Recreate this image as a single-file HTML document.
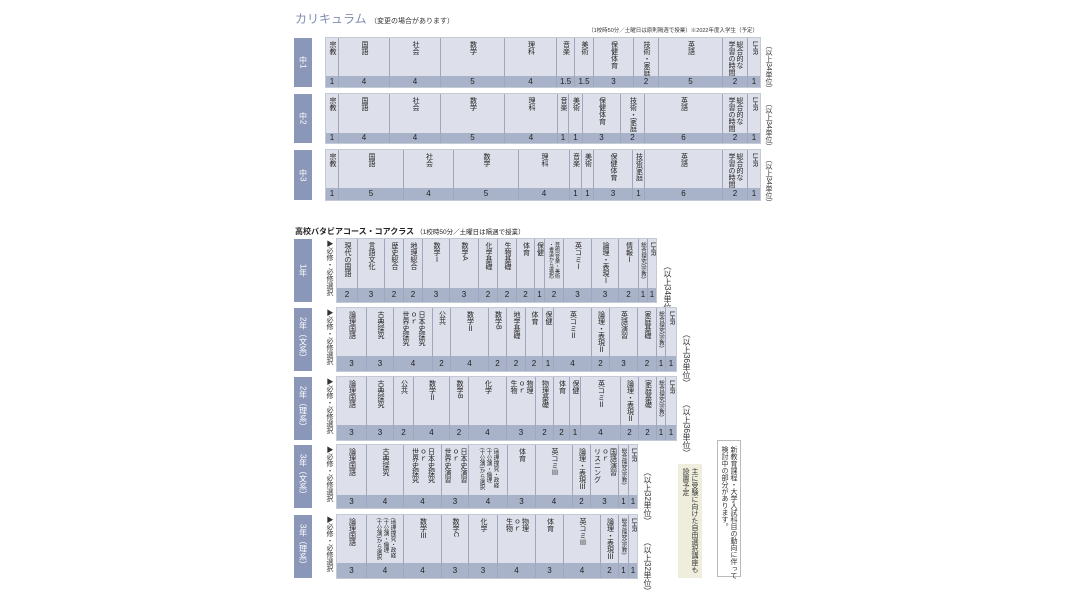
<!DOCTYPE html>
<html><head><meta charset="utf-8"><style>
body{margin:0;width:1080px;height:608px;background:#fff;position:relative;overflow:hidden;font-family:"Liberation Sans","Noto Sans CJK JP",sans-serif;color:#333}
.a{position:absolute}
.t{position:absolute;background:linear-gradient(to top,#a8b2c8 var(--n),#dde0ea var(--n));box-shadow:0 0 0 1px #c4c9d6}
.c{position:absolute;top:0;bottom:0;border-left:1px solid #9ea7bc;text-align:center;box-sizing:border-box}
.c:first-child{border-left:none}
.c span{display:inline-block;writing-mode:vertical-rl;text-align:start;font-size:7px;line-height:8px;margin-top:3px;white-space:nowrap;color:#222}
.c b{position:absolute;left:0;right:0;bottom:0;height:var(--n);line-height:var(--n);font-weight:normal;font-size:8px;color:#222}
.lb{position:absolute;left:294px;width:18px;background:#8a97b8;color:#fff;font-size:8px;display:flex;align-items:center;justify-content:center}
.lb span{writing-mode:vertical-rl;white-space:nowrap}
.v{position:absolute;writing-mode:vertical-rl;font-size:7px;line-height:8px;color:#333;white-space:nowrap}
</style></head><body>
<div class="a" style="left:295px;top:10px;font-size:12px;color:#7f8db0">カリキュラム <span style="font-size:7px;color:#333">（変更の場合があります）</span></div>
<div class="a" style="left:540px;top:26px;font-size:5.5px;width:218px;text-align:right;white-space:nowrap">（1校時50分／土曜日は原則隔週で授業）※2022年度入学生（予定）</div>

<div class="lb" style="top:38px;height:49px"><span>中1</span></div>
<div class="t" style="left:326px;top:38px;width:434px;height:49px;--n:11px">
<div class="c" style="left:0;width:12px"><span>宗教</span><b>1</b></div>
<div class="c" style="left:12px;width:51px"><span>国語</span><b>4</b></div>
<div class="c" style="left:63px;width:51px"><span>社会</span><b>4</b></div>
<div class="c" style="left:114px;width:64px"><span>数学</span><b>5</b></div>
<div class="c" style="left:178px;width:52px"><span>理科</span><b>4</b></div>
<div class="c" style="left:230px;width:18px"><span>音楽</span><b>1.5</b></div>
<div class="c" style="left:248px;width:19px"><span>美術</span><b>1.5</b></div>
<div class="c" style="left:267px;width:40px"><span>保健体育</span><b>3</b></div>
<div class="c" style="left:307px;width:25px"><span>技術・家庭</span><b>2</b></div>
<div class="c" style="left:332px;width:64px"><span>英語</span><b>5</b></div>
<div class="c" style="left:396px;width:25px"><span>総合的な<br>学習の時間</span><b>2</b></div>
<div class="c" style="left:421px;width:13px"><span>LHR</span><b>1</b></div>
</div>
<div class="v" style="left:764px;top:42px">（以上34単位）</div>

<div class="lb" style="top:94px;height:49px"><span>中2</span></div>
<div class="t" style="left:326px;top:94px;width:434px;height:49px;--n:10px">
<div class="c" style="left:0;width:12px"><span>宗教</span><b>1</b></div>
<div class="c" style="left:12px;width:51px"><span>国語</span><b>4</b></div>
<div class="c" style="left:63px;width:51px"><span>社会</span><b>4</b></div>
<div class="c" style="left:114px;width:64px"><span>数学</span><b>5</b></div>
<div class="c" style="left:178px;width:53px"><span>理科</span><b>4</b></div>
<div class="c" style="left:231px;width:11px"><span>音楽</span><b>1</b></div>
<div class="c" style="left:242px;width:14px"><span>美術</span><b>1</b></div>
<div class="c" style="left:256px;width:38px"><span>保健体育</span><b>3</b></div>
<div class="c" style="left:294px;width:24px"><span>技術・家庭</span><b>2</b></div>
<div class="c" style="left:318px;width:78px"><span>英語</span><b>6</b></div>
<div class="c" style="left:396px;width:25px"><span>総合的な<br>学習の時間</span><b>2</b></div>
<div class="c" style="left:421px;width:13px"><span>LHR</span><b>1</b></div>
</div>
<div class="v" style="left:764px;top:100px">（以上34単位）</div>

<div class="lb" style="top:150px;height:50px"><span>中3</span></div>
<div class="t" style="left:326px;top:150px;width:434px;height:50px;--n:12px">
<div class="c" style="left:0;width:12px"><span>宗教</span><b>1</b></div>
<div class="c" style="left:12px;width:65px"><span>国語</span><b>5</b></div>
<div class="c" style="left:77px;width:50px"><span>社会</span><b>4</b></div>
<div class="c" style="left:127px;width:65px"><span>数学</span><b>5</b></div>
<div class="c" style="left:192px;width:51px"><span>理科</span><b>4</b></div>
<div class="c" style="left:243px;width:12px"><span>音楽</span><b>1</b></div>
<div class="c" style="left:255px;width:12px"><span>美術</span><b>1</b></div>
<div class="c" style="left:267px;width:39px"><span>保健体育</span><b>3</b></div>
<div class="c" style="left:306px;width:12px"><span>技術家庭</span><b>1</b></div>
<div class="c" style="left:318px;width:78px"><span>英語</span><b>6</b></div>
<div class="c" style="left:396px;width:25px"><span>総合的な<br>学習の時間</span><b>2</b></div>
<div class="c" style="left:421px;width:13px"><span>LHR</span><b>1</b></div>
</div>
<div class="v" style="left:764px;top:156px">（以上34単位）</div>

<div class="a" style="left:295px;top:226px;font-size:8px;font-weight:bold;color:#222;white-space:nowrap">高校バタビアコース・コアクラス <span style="font-weight:normal;font-size:6.5px">（1校時50分／土曜日は隔週で授業）</span></div>

<div class="lb" style="top:239px;height:63px"><span>1年</span></div>
<div class="v" style="left:325px;top:240px">▶必修・必修選択</div>
<div class="t" style="left:337px;top:239px;width:319px;height:63px;--n:14px">
<div class="c" style="left:0;width:20px"><span>現代の国語</span><b>2</b></div>
<div class="c" style="left:20px;width:27px"><span>言語文化</span><b>3</b></div>
<div class="c" style="left:47px;width:19px"><span>歴史総合</span><b>2</b></div>
<div class="c" style="left:66px;width:19px"><span>地理総合</span><b>2</b></div>
<div class="c" style="left:85px;width:27px"><span>数学Ⅰ</span><b>3</b></div>
<div class="c" style="left:112px;width:29px"><span>数学A</span><b>3</b></div>
<div class="c" style="left:141px;width:19px"><span>化学基礎</span><b>2</b></div>
<div class="c" style="left:160px;width:19px"><span>生物基礎</span><b>2</b></div>
<div class="c" style="left:179px;width:18px"><span>体育</span><b>2</b></div>
<div class="c" style="left:197px;width:10px"><span>保健</span><b>1</b></div>
<div class="c" style="left:207px;width:19px"><span style="font-size:5px;line-height:6px">芸術(音楽・美術<br>・書道から選択)</span><b>2</b></div>
<div class="c" style="left:226px;width:28px"><span>英コミⅠ</span><b>3</b></div>
<div class="c" style="left:254px;width:27px"><span>論理・表現Ⅰ</span><b>3</b></div>
<div class="c" style="left:281px;width:20px"><span>情報Ⅰ</span><b>2</b></div>
<div class="c" style="left:301px;width:9px"><span style="font-size:5.5px">総合探究(宗教)</span><b>1</b></div>
<div class="c" style="left:310px;width:9px"><span>LHR</span><b>1</b></div>
</div>
<div class="v" style="left:663px;top:262px;font-size:8px">（以上34単位）</div>

<div class="lb" style="top:308px;height:63px"><span>2年（文系）</span></div>
<div class="v" style="left:325px;top:309px">▶必修・必修選択</div>
<div class="t" style="left:337px;top:308px;width:339px;height:63px;--n:15px">
<div class="c" style="left:0;width:29px"><span>論理国語</span><b>3</b></div>
<div class="c" style="left:29px;width:27px"><span>古典探究</span><b>3</b></div>
<div class="c" style="left:56px;width:39px"><span>日本史探究<br>ｏｒ<br>世界史探究</span><b>4</b></div>
<div class="c" style="left:95px;width:18px"><span>公共</span><b>2</b></div>
<div class="c" style="left:113px;width:38px"><span>数学Ⅱ</span><b>4</b></div>
<div class="c" style="left:151px;width:18px"><span>数学B</span><b>2</b></div>
<div class="c" style="left:169px;width:19px"><span>地学基礎</span><b>2</b></div>
<div class="c" style="left:188px;width:17px"><span>体育</span><b>2</b></div>
<div class="c" style="left:205px;width:11px"><span>保健</span><b>1</b></div>
<div class="c" style="left:216px;width:38px"><span>英コミⅡ</span><b>4</b></div>
<div class="c" style="left:254px;width:18px"><span>論理・表現Ⅱ</span><b>2</b></div>
<div class="c" style="left:272px;width:28px"><span>英語演習</span><b>3</b></div>
<div class="c" style="left:300px;width:19px"><span>家庭基礎</span><b>2</b></div>
<div class="c" style="left:319px;width:9px"><span style="font-size:5.5px">総合探究(宗教)</span><b>1</b></div>
<div class="c" style="left:328px;width:11px"><span>LHR</span><b>1</b></div>
</div>
<div class="v" style="left:682px;top:330px;font-size:8px">（以上36単位）</div>

<div class="lb" style="top:377px;height:63px"><span>2年（理系）</span></div>
<div class="v" style="left:325px;top:378px">▶必修・必修選択</div>
<div class="t" style="left:337px;top:377px;width:339px;height:63px;--n:15px">
<div class="c" style="left:0;width:29px"><span>論理国語</span><b>3</b></div>
<div class="c" style="left:29px;width:27px"><span>古典探究</span><b>3</b></div>
<div class="c" style="left:56px;width:20px"><span>公共</span><b>2</b></div>
<div class="c" style="left:76px;width:36px"><span>数学Ⅱ</span><b>4</b></div>
<div class="c" style="left:112px;width:19px"><span>数学B</span><b>2</b></div>
<div class="c" style="left:131px;width:38px"><span>化学</span><b>4</b></div>
<div class="c" style="left:169px;width:29px"><span>物理<br>ｏｒ<br>生物</span><b>3</b></div>
<div class="c" style="left:198px;width:18px"><span>物理基礎</span><b>2</b></div>
<div class="c" style="left:216px;width:16px"><span>体育</span><b>2</b></div>
<div class="c" style="left:232px;width:11px"><span>保健</span><b>1</b></div>
<div class="c" style="left:243px;width:40px"><span>英コミⅡ</span><b>4</b></div>
<div class="c" style="left:283px;width:18px"><span>論理・表現Ⅱ</span><b>2</b></div>
<div class="c" style="left:301px;width:18px"><span>家庭基礎</span><b>2</b></div>
<div class="c" style="left:319px;width:9px"><span style="font-size:5.5px">総合探究(宗教)</span><b>1</b></div>
<div class="c" style="left:328px;width:11px"><span>LHR</span><b>1</b></div>
</div>
<div class="v" style="left:682px;top:400px;font-size:8px">（以上36単位）</div>

<div class="lb" style="top:445px;height:63px"><span>3年（文系）</span></div>
<div class="v" style="left:325px;top:446px">▶必修・必修選択</div>
<div class="t" style="left:337px;top:445px;width:300px;height:63px;--n:13px">
<div class="c" style="left:0;width:29px"><span>論理国語</span><b>3</b></div>
<div class="c" style="left:29px;width:37px"><span>古典探究</span><b>4</b></div>
<div class="c" style="left:66px;width:38px"><span>日本史探究<br>ｏｒ<br>世界史探究</span><b>4</b></div>
<div class="c" style="left:104px;width:27px"><span>日本史演習<br>ｏｒ<br>世界史演習</span><b>3</b></div>
<div class="c" style="left:131px;width:39px"><span style="font-size:5.5px;line-height:7px">(地理探究・政経<br>(十公演・倫理<br>(十公演)から選択</span><b>4</b></div>
<div class="c" style="left:170px;width:28px"><span>体育</span><b>3</b></div>
<div class="c" style="left:198px;width:37px"><span>英コミⅢ</span><b>4</b></div>
<div class="c" style="left:235px;width:18px"><span>論理・表現Ⅲ</span><b>2</b></div>
<div class="c" style="left:253px;width:28px"><span>国語演習<br>ｏｒ<br>リスニング</span><b>3</b></div>
<div class="c" style="left:281px;width:10px"><span style="font-size:5.5px">総合探究(宗教)</span><b>1</b></div>
<div class="c" style="left:291px;width:9px"><span>LHR</span><b>1</b></div>
</div>
<div class="v" style="left:643px;top:468px;font-size:8px">（以上32単位）</div>

<div class="lb" style="top:515px;height:63px"><span>3年（理系）</span></div>
<div class="v" style="left:325px;top:516px">▶必修・必修選択</div>
<div class="t" style="left:337px;top:515px;width:300px;height:63px;--n:15px">
<div class="c" style="left:0;width:29px"><span>論理国語</span><b>3</b></div>
<div class="c" style="left:29px;width:37px"><span style="font-size:5.5px;line-height:7px">(地理探究・政経<br>(十公演・倫理<br>(十公演)から選択</span><b>4</b></div>
<div class="c" style="left:66px;width:38px"><span>数学Ⅲ</span><b>4</b></div>
<div class="c" style="left:104px;width:27px"><span>数学C</span><b>3</b></div>
<div class="c" style="left:131px;width:29px"><span>化学</span><b>3</b></div>
<div class="c" style="left:160px;width:38px"><span>物理<br>ｏｒ<br>生物</span><b>4</b></div>
<div class="c" style="left:198px;width:28px"><span>体育</span><b>3</b></div>
<div class="c" style="left:226px;width:37px"><span>英コミⅢ</span><b>4</b></div>
<div class="c" style="left:263px;width:18px"><span>論理・表現Ⅲ</span><b>2</b></div>
<div class="c" style="left:281px;width:10px"><span style="font-size:5.5px">総合探究(宗教)</span><b>1</b></div>
<div class="c" style="left:291px;width:9px"><span>LHR</span><b>1</b></div>
</div>
<div class="v" style="left:643px;top:538px;font-size:8px">（以上32単位）</div>

<div class="a" style="left:678px;top:464px;width:24px;height:114px;background:#efeedd"><div class="v" style="left:3px;top:4px;font-size:7px;line-height:9px">主に受験に向けた自由選択講座も<br>設置予定</div></div>
<div class="a" style="left:717px;top:440px;width:24px;height:137px;border:1px solid #bbb;box-sizing:border-box"><div class="v" style="left:2px;top:5px;font-size:7px;line-height:9px">新教育課程・大学入試科目の動向に伴って<br>検討中の部分があります。</div></div>
</body></html>
